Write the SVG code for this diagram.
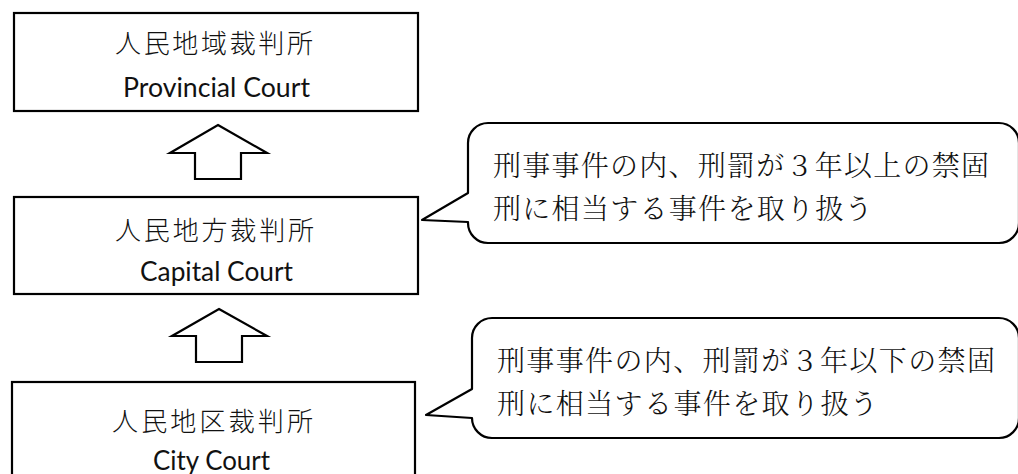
<svg xmlns="http://www.w3.org/2000/svg" width="1018" height="474" viewBox="0 0 1018 474">
<style>
.box{fill:#fff;stroke:#000;stroke-width:2.2}
.arrow{fill:#fff;stroke:#000;stroke-width:2.2;stroke-linejoin:miter}
.call{fill:#fff;stroke:#000;stroke-width:2.2;stroke-linejoin:round}
.jp{font-family:"Noto Sans CJK JP",sans-serif;font-size:26px;font-weight:300;fill:#111}
.en{font-family:Lato,"Open Sans",sans-serif;font-size:27px;fill:#111}
.ct{font-family:"Noto Serif CJK JP","Noto Sans CJK JP",serif;font-size:28px;font-weight:300;fill:#111}
</style>
<rect width="1018" height="474" fill="#fff"/>
<g id="provincial">
<rect class="box" x="14" y="13" width="404" height="98"/>
<text class="jp" x="115" y="53" textLength="198" lengthAdjust="spacing">人民地域裁判所</text>
<text class="en" x="123" y="97" textLength="187" lengthAdjust="spacingAndGlyphs">Provincial Court</text>
</g>
<g id="capital">
<rect class="box" x="14" y="197" width="404" height="97"/>
<text class="jp" x="115" y="240" textLength="199" lengthAdjust="spacing">人民地方裁判所</text>
<text class="en" x="140" y="281" textLength="153" lengthAdjust="spacingAndGlyphs">Capital Court</text>
</g>
<g id="city">
<rect class="box" x="12" y="382" width="403" height="100"/>
<text class="jp" x="112" y="431" textLength="201" lengthAdjust="spacing">人民地区裁判所</text>
<text class="en" x="153" y="470" textLength="117" lengthAdjust="spacingAndGlyphs">City Court</text>
</g>
<g id="connectors">
<path class="arrow" d="M218,125 L267,153 L241,153 L241,179 L195,179 L195,153 L170,153 Z"/>
<path class="arrow" d="M219,309 L267,336 L242,336 L242,362 L196,362 L196,336 L172,336 Z"/>
</g>
<g id="callout1">
<path class="call" d="M488,123 H999 A20,20 0 0 1 1019,143 V223 A20,20 0 0 1 999,243 H488 A20,20 0 0 1 468,223 V222 L422,220 L468,193 V143 A20,20 0 0 1 488,123 Z"/>
<text class="ct" x="493" y="176" textLength="496" lengthAdjust="spacing">刑事事件の内、刑罰が３年以上の禁固</text>
<text class="ct" x="493" y="219" letter-spacing="1.3">刑に相当する事件を取り扱う</text>
</g>
<g id="callout2">
<path class="call" d="M492,318 H999 A20,20 0 0 1 1019,338 V418 A20,20 0 0 1 999,438 H492 A20,20 0 0 1 472,418 L426,415 L472,389 V338 A20,20 0 0 1 492,318 Z"/>
<text class="ct" x="497" y="371" textLength="498" lengthAdjust="spacing">刑事事件の内、刑罰が３年以下の禁固</text>
<text class="ct" x="497" y="414" letter-spacing="1.4">刑に相当する事件を取り扱う</text>
</g>
</svg>
